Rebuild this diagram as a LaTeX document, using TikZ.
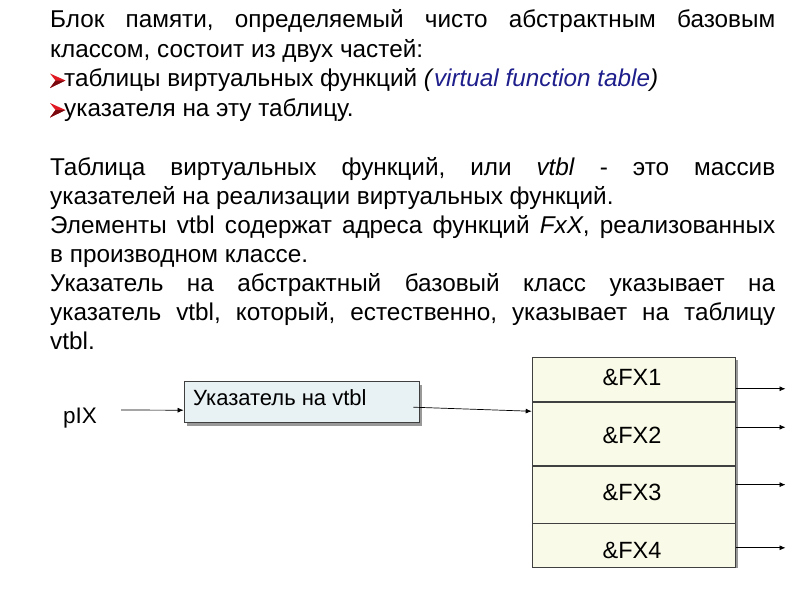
\documentclass[tikz,border=0pt]{standalone}
\usepackage{fontspec}
\setmainfont{Liberation Sans}
\usetikzlibrary{arrows.meta,shadows,calc}
\definecolor{navy}{RGB}{30,30,140}
\definecolor{ptrfill}{RGB}{232,241,244}
\definecolor{tblfill}{RGB}{250,250,232}
\definecolor{bulletred}{RGB}{225,25,35}
\definecolor{bulletdark}{RGB}{120,10,15}
\newcommand{\jline}[1]{\makebox[725pt][s]{#1}}
\frenchspacing
\begin{document}
\begin{tikzpicture}[x=1pt,y=-1pt,
  txt/.style={anchor=base west, inner sep=0pt, font=\fontsize{24.3}{29}\selectfont},
  ptrbox/.style={draw=black!75, fill=ptrfill, minimum width=235, minimum height=41, inner sep=0, line width=0.8,
    drop shadow={shadow xshift=3pt, shadow yshift=-3pt, fill=black!40, opacity=1}},
  rowbox/.style={draw=black!75, fill=tblfill, minimum width=203, inner sep=0, line width=0.8},
  lbl/.style={font=\fontsize{23.5}{28}\selectfont, inner sep=0},
  arr/.style={-{Latex[length=6pt,width=5pt]}, line width=0.7}
]
\useasboundingbox (0,0) rectangle (800,600);
\fill[white] (0,0) rectangle (800,600);

% text
\node[txt] (l1) at (50,27.5) {\jline{Блок памяти, определяемый чисто абстрактным базовым}};
\node[txt] (l2) at (50,57) {классом, состоит из двух частей:};
\node[txt] (l3) at (64,86.5) {таблицы виртуальных функций \textit{(}{\color{navy}\textit{virtual function table}}\textit{)}};
\node[txt] (l4) at (64,116) {указателя на эту таблицу.};
\node[txt] (l5) at (50,175) {\jline{Таблица виртуальных функций, или \textit{vtbl} - это массив}};
\node[txt] (l6) at (50,204) {указателей на реализации виртуальных функций.};
\node[txt] (l7) at (50,233) {\jline{Элементы vtbl содержат адреса функций \textit{FxX}, реализованных}};
\node[txt] (l8) at (50,262) {в производном классе.};
\node[txt] (l9) at (50,291) {\jline{Указатель на абстрактный базовый класс указывает на}};
\node[txt] (l10) at (50,320) {\jline{указатель vtbl, который, естественно, указывает на таблицу}};
\node[txt] (l11) at (50,349) {vtbl.};

% bullets
\fill[bulletred] (50,73.5) -- (65.5,80.5) -- (50,88) -- (55.5,80.5) -- cycle;
\fill[bulletdark] (55.5,80.5) -- (65.5,80.5) -- (50,88) -- cycle;
\fill[bulletred] (50,103) -- (65.5,110) -- (50,117.5) -- (55.5,110) -- cycle;
\fill[bulletdark] (55.5,110) -- (65.5,110) -- (50,117.5) -- cycle;

% pointer
\node[lbl, font=\fontsize{22.5}{26}\selectfont, anchor=base west] (pix) at (63,423) {pIX};
\node[ptrbox] (ptr) at (301.5,402.2) {};
\node[lbl, font=\fontsize{22}{26}\selectfont, anchor=base west] (ptrtxt) at (193,405) {Указатель на vtbl};
\coordinate (pixend) at (121,410);
\draw[arr] (pixend) -- ($(ptr.west)+(0,8)$);

% table
\fill[black!40] (535.3,360.3) rectangle (738,568);
\node[rowbox, minimum height=43.7, anchor=north] (r1) at (633.6,357.3) {};
\node[rowbox, minimum height=63.3, anchor=north] (r2) at (r1.south) {};
\node[rowbox, minimum height=56.7, anchor=north] (r3) at (r2.south) {};
\node[rowbox, minimum height=44, anchor=north] (r4) at (r3.south) {};
\node[lbl] (fx1) at (632,377) {\&FX1};
\node[lbl] (fx2) at (632,435) {\&FX2};
\node[lbl] (fx3) at (632,492.7) {\&FX3};
\node[lbl] (fx4) at (632,550) {\&FX4};

\draw[arr] ($(ptr.east)+(-6,5)$) -- ($(r2.west)+(0,-22.6)$);

\draw[arr] ($(r1.east)+(0,9.2)$) -- ++(50,0);
\draw[arr] ($(r2.east)+(0,-6.6)$) -- ++(50,0);
\draw[arr] ($(r3.east)+(0,-10)$) -- ++(50,0);
\draw[arr] ($(r4.east)+(0,2)$) -- ++(50,0);
\end{tikzpicture}
\end{document}
